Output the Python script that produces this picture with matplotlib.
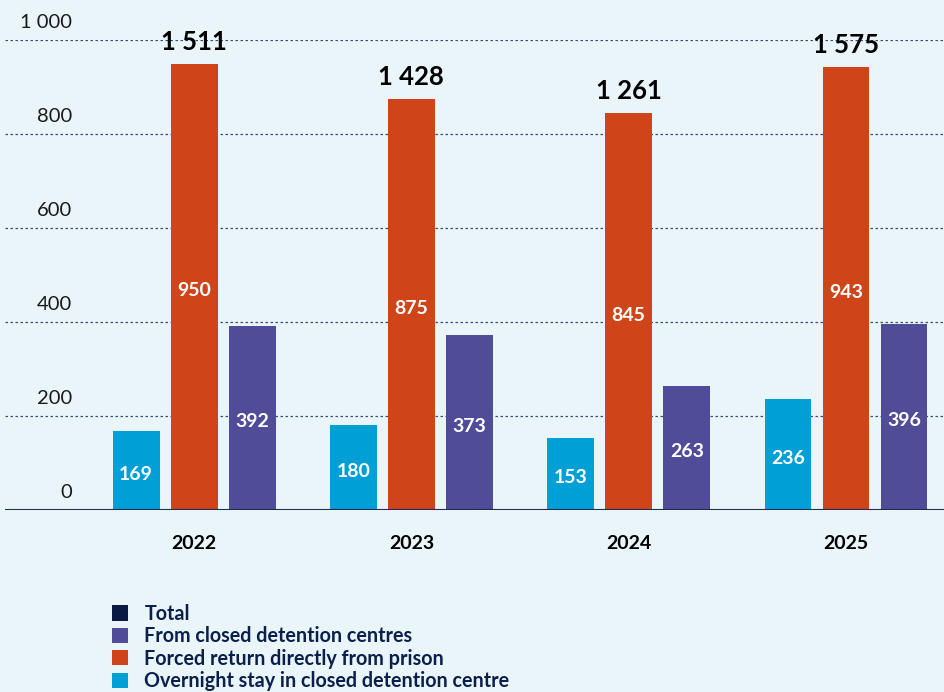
import matplotlib
matplotlib.use('Agg')
import matplotlib.pyplot as plt
from matplotlib.patches import Patch
from matplotlib import transforms
import numpy as np

plt.rcParams['font.family'] = ['Lato', 'DejaVu Sans']

years = ['2022', '2023', '2024', '2025']
overnight = [169, 180, 153, 236]
prison = [950, 875, 845, 943]
closed = [392, 373, 263, 396]
totals = [1511, 1428, 1261, 1575]
yticks = [0, 200, 400, 600, 800, 1000]
ytick_labels = ['0', '200', '400', '600', '800', '1 000']

legend_labels = ['Total', 'From closed detention centres',
                 'Forced return directly from prison',
                 'Overnight stay in closed detention centre']

bg = '#eaf5fa'
c_cyan = '#009fd6'
c_orange = '#cf4418'
c_purple = '#504c97'
c_navy = '#0a1a45'
c_text = '#0b1f4b'

W, H = 944, 692
fig = plt.figure(figsize=(W / 100, H / 100), dpi=100, facecolor=bg)
ax = fig.add_axes([5 / W, (H - 510) / H, (W - 5) / W, 470 / H])
ax.set_facecolor(bg)

x = np.arange(len(years))
bw = 0.216
off = 0.267

bars_c = ax.bar(x - off, overnight, bw, color=c_cyan, zorder=3)
bars_o = ax.bar(x, prison, bw, color=c_orange, zorder=3)
bars_p = ax.bar(x + off, closed, bw, color=c_purple, zorder=3)

for bars, vals in [(bars_c, overnight), (bars_o, prison), (bars_p, closed)]:
    for b, v in zip(bars, vals):
        ax.text(b.get_x() + b.get_width() / 2, v / 2 - 8, str(v), ha='center', va='center',
                color='white', fontsize=14, fontweight='bold', zorder=4)

for xi, v, t in zip(x, prison, totals):
    s = f"{t:,}".replace(',', ' ')
    ax.text(xi, v + 20, s, ha='center', va='bottom', fontsize=18.5,
            fontweight='bold', color='black', zorder=4)

ax.set_xlim(-0.87, 3.451)
ax.set_ylim(0, 1000)

# gridlines
for yv in yticks[1:]:
    ax.axhline(yv, color='#3a4a7a', linestyle=(0, (2, 2)), linewidth=0.9, zorder=1)
ax.axhline(0, color='#1a2a5a', linewidth=1.5, zorder=5)

# y labels sitting above the gridlines
trans = transforms.blended_transform_factory(fig.transFigure, ax.transData)
for yv, lab in zip(yticks, ytick_labels):
    ax.text(72 / W, yv + 20, lab, transform=trans, ha='right', va='bottom',
            fontsize=14.5, color='#1a1a1a')

for xi, yr in zip(x, years):
    ax.text(xi, -72, yr, ha='center', va='center', fontsize=14,
            fontweight='bold', color='black')

ax.set_xticks([])
ax.set_yticks([])
for s in ax.spines.values():
    s.set_visible(False)

handles = [Patch(facecolor=c_navy), Patch(facecolor=c_purple),
           Patch(facecolor=c_orange), Patch(facecolor=c_cyan)]
leg = fig.legend(handles, legend_labels, loc='upper left',
                 bbox_to_anchor=(104 / W, 1 - 596 / H), frameon=False,
                 handlelength=0.8, handleheight=0.8, handletextpad=0.85,
                 labelspacing=0.12, fontsize=14.2, borderaxespad=0)
for t in leg.get_texts():
    t.set_color(c_text)
    t.set_fontweight('bold')

fig.savefig('out.png', dpi=100, facecolor=bg)
